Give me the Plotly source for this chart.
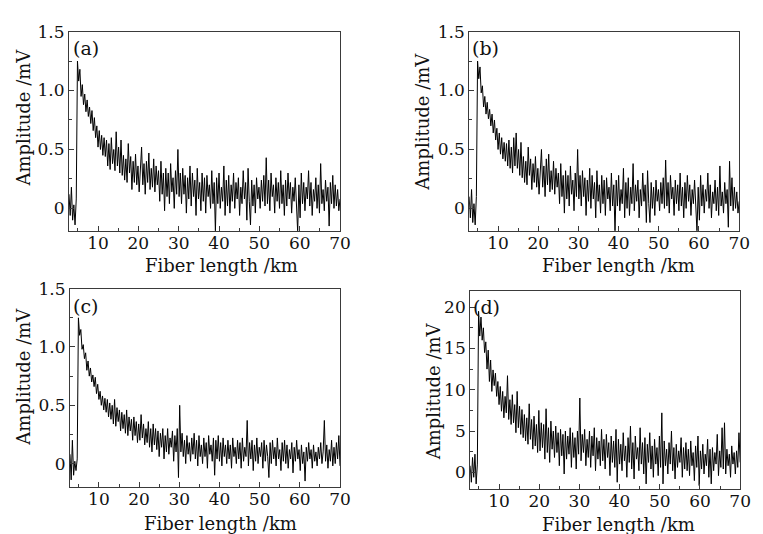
import plotly.graph_objects as go

# ---------------- data ----------------
fiber_km = [
    2.8, 3.1, 3.4, 3.7, 4.0, 4.3, 4.6, 4.9, 5.2, 5.5,
    5.8, 6.1, 6.4, 6.7, 7.0, 7.3, 7.6, 7.9, 8.2, 8.5,
    8.8, 9.1, 9.4, 9.7, 10.0, 10.3, 10.6, 10.9, 11.2, 11.5,
    11.8, 12.1, 12.4, 12.7, 13.0, 13.3, 13.6, 13.9, 14.2, 14.5,
    14.8, 15.1, 15.4, 15.7, 16.0, 16.3, 16.6, 16.9, 17.2, 17.5,
    17.8, 18.1, 18.4, 18.7, 19.0, 19.3, 19.6, 19.9, 20.2, 20.5,
    20.8, 21.1, 21.4, 21.7, 22.0, 22.3, 22.6, 22.9, 23.2, 23.5,
    23.8, 24.1, 24.4, 24.7, 25.0, 25.3, 25.6, 25.9, 26.2, 26.5,
    26.8, 27.1, 27.4, 27.7, 28.0, 28.3, 28.6, 28.9, 29.2, 29.5,
    29.8, 30.1, 30.4, 30.7, 31.0, 31.3, 31.6, 31.9, 32.2, 32.5,
    32.8, 33.1, 33.4, 33.7, 34.0, 34.3, 34.6, 34.9, 35.2, 35.5,
    35.8, 36.1, 36.4, 36.7, 37.0, 37.3, 37.6, 37.9, 38.2, 38.5,
    38.8, 39.1, 39.4, 39.7, 40.0, 40.3, 40.6, 40.9, 41.2, 41.5,
    41.8, 42.1, 42.4, 42.7, 43.0, 43.3, 43.6, 43.9, 44.2, 44.5,
    44.8, 45.1, 45.4, 45.7, 46.0, 46.3, 46.6, 46.9, 47.2, 47.5,
    47.8, 48.1, 48.4, 48.7, 49.0, 49.3, 49.6, 49.9, 50.2, 50.5,
    50.8, 51.1, 51.4, 51.7, 52.0, 52.3, 52.6, 52.9, 53.2, 53.5,
    53.8, 54.1, 54.4, 54.7, 55.0, 55.3, 55.6, 55.9, 56.2, 56.5,
    56.8, 57.1, 57.4, 57.7, 58.0, 58.3, 58.6, 58.9, 59.2, 59.5,
    59.8, 60.1, 60.4, 60.7, 61.0, 61.3, 61.6, 61.9, 62.2, 62.5,
    62.8, 63.1, 63.4, 63.7, 64.0, 64.3, 64.6, 64.9, 65.2, 65.5,
    65.8, 66.1, 66.4, 66.7, 67.0, 67.3, 67.6, 67.9, 68.2, 68.5,
    68.8, 69.1, 69.4, 69.7, 70.0,
]

amp_a_mV = [
    0.12, -0.06, 0.18, -0.10, 0.03, -0.14, 0.08, 1.25, 1.08, 1.18,
    0.95, 1.05, 0.88, 0.97, 0.82, 0.92, 0.78, 0.86, 0.72, 0.83,
    0.66, 0.77, 0.60, 0.70, 0.52, 0.66, 0.50, 0.62, 0.45, 0.60,
    0.44, 0.58, 0.36, 0.55, 0.33, 0.60, 0.38, 0.50, 0.32, 0.65,
    0.36, 0.52, 0.30, 0.58, 0.28, 0.45, 0.24, 0.42, 0.22, 0.55,
    0.30, 0.44, 0.16, 0.40, 0.22, 0.46, 0.20, 0.36, 0.14, 0.38,
    0.52, 0.20, 0.38, 0.12, 0.40, 0.22, 0.47, 0.16, 0.34, 0.18,
    0.42, 0.14, 0.36, 0.20, 0.32, 0.06, 0.40, 0.12, 0.30, -0.02,
    0.34, 0.10, 0.30, 0.04, 0.38, 0.14, 0.26, 0.00, 0.32, 0.12,
    0.50, 0.10, 0.30, 0.04, 0.34, 0.12, 0.28, -0.04, 0.26, 0.08,
    0.36, 0.02, 0.30, 0.10, 0.24, -0.06, 0.34, 0.08, 0.22, -0.02,
    0.30, 0.06, 0.26, -0.04, 0.28, 0.10, 0.20, 0.00, 0.32, 0.04,
    0.22, -0.20, 0.26, 0.04, 0.30, 0.00, 0.18, 0.06, 0.36, -0.06,
    0.24, 0.02, 0.28, -0.04, 0.20, 0.06, 0.30, 0.00, 0.22, 0.08,
    0.26, -0.06, 0.18, 0.04, 0.32, 0.08, 0.22, -0.10, 0.34, 0.06,
    -0.14, 0.24, 0.02, 0.20, -0.04, 0.26, 0.08, 0.18, 0.00, 0.24,
    0.06, 0.28, 0.02, 0.43, 0.04, 0.24, -0.02, 0.30, 0.10, 0.20,
    -0.04, 0.26, 0.06, 0.22, 0.00, 0.32, 0.04, 0.20, -0.06, 0.24,
    0.02, 0.30, 0.08, 0.22, -0.04, 0.18, 0.06, 0.26, 0.00, -0.20,
    0.20, -0.08, 0.30, 0.04, 0.22, -0.02, 0.18, 0.08, 0.32, 0.02,
    0.22, -0.06, 0.16, 0.06, 0.26, 0.00, 0.20, -0.04, 0.38, 0.04,
    0.16, -0.02, 0.24, 0.06, 0.18, -0.15, 0.22, 0.04, 0.28, 0.00,
    0.20, 0.02, 0.16, -0.02, 0.08,
]

amp_b_mV = [
    0.10, -0.08, 0.16, -0.12, 0.04, -0.14, 0.10, 1.25, 1.10, 1.20,
    0.98, 1.04, 0.86, 0.95, 0.80, 0.90, 0.76, 0.84, 0.70, 0.80,
    0.64, 0.75, 0.58, 0.68, 0.50, 0.64, 0.46, 0.60, 0.42, 0.56,
    0.40, 0.55, 0.36, 0.58, 0.34, 0.52, 0.30, 0.60, 0.36, 0.64,
    0.34, 0.50, 0.28, 0.56, 0.26, 0.44, 0.22, 0.40, 0.20, 0.52,
    0.28, 0.42, 0.16, 0.38, 0.22, 0.44, 0.18, 0.34, 0.12, 0.36,
    0.50, 0.18, 0.36, 0.10, 0.42, 0.20, 0.46, 0.14, 0.32, 0.16,
    0.40, 0.12, 0.34, 0.18, 0.30, 0.04, 0.38, 0.10, 0.28, -0.04,
    0.32, 0.08, 0.28, 0.02, 0.36, 0.12, 0.24, -0.02, 0.30, 0.10,
    0.50, 0.08, 0.28, 0.02, 0.32, 0.10, 0.26, -0.06, 0.24, 0.06,
    0.34, 0.00, 0.28, 0.08, 0.22, -0.08, 0.32, 0.06, 0.20, -0.04,
    0.28, 0.04, 0.24, -0.06, 0.26, 0.08, 0.18, -0.02, 0.30, 0.02,
    0.20, -0.22, 0.24, 0.02, 0.28, -0.02, 0.16, 0.04, 0.34, -0.08,
    0.22, 0.00, 0.26, -0.06, 0.18, 0.04, 0.38, -0.02, 0.20, 0.06,
    0.24, -0.08, 0.16, 0.02, 0.30, 0.06, 0.20, -0.12, 0.32, 0.04,
    -0.12, 0.22, 0.00, 0.18, -0.06, 0.24, 0.06, 0.16, -0.02, 0.22,
    0.04, 0.26, 0.00, 0.41, 0.02, 0.22, -0.04, 0.28, 0.08, 0.18,
    -0.06, 0.24, 0.04, 0.20, -0.02, 0.30, 0.02, 0.18, -0.08, 0.22,
    0.00, 0.28, 0.06, 0.20, -0.06, 0.16, 0.04, 0.24, -0.02, -0.20,
    0.18, -0.10, 0.28, 0.02, 0.20, -0.04, 0.16, 0.06, 0.30, 0.00,
    0.20, -0.08, 0.14, 0.04, 0.24, -0.02, 0.18, -0.06, 0.36, 0.02,
    0.14, -0.04, 0.22, 0.04, 0.16, -0.16, 0.40, 0.02, 0.26, -0.02,
    0.18, 0.00, 0.14, -0.04, 0.06,
]

amp_c_mV = [
    0.08, -0.14, 0.20, -0.10, 0.02, -0.06, 0.04, 1.25, 1.10, 1.15,
    0.98, 1.02, 0.90, 0.95, 0.80, 0.88, 0.75, 0.82, 0.70, 0.76,
    0.66, 0.74, 0.60, 0.68, 0.55, 0.62, 0.50, 0.58, 0.46, 0.56,
    0.44, 0.55, 0.40, 0.52, 0.38, 0.50, 0.34, 0.55, 0.32, 0.48,
    0.36, 0.46, 0.28, 0.44, 0.30, 0.42, 0.26, 0.46, 0.24, 0.40,
    0.28, 0.38, 0.20, 0.40, 0.24, 0.36, 0.18, 0.34, 0.20, 0.42,
    0.22, 0.34, 0.16, 0.30, 0.18, 0.36, 0.14, 0.30, 0.10, 0.34,
    0.16, 0.30, 0.12, 0.28, 0.06, 0.26, 0.14, 0.30, 0.04, 0.24,
    0.10, 0.30, 0.08, 0.22, 0.14, 0.28, 0.02, 0.24, 0.10, 0.30,
    -0.12, 0.50, 0.10, 0.26, 0.06, 0.20, 0.00, 0.24, 0.08, 0.18,
    0.02, 0.22, 0.08, 0.26, 0.04, 0.20, -0.02, 0.24, 0.06, 0.16,
    0.00, 0.22, 0.06, 0.18, -0.04, 0.24, 0.08, 0.16, 0.02, 0.22,
    -0.10, 0.20, 0.04, 0.24, 0.02, 0.18, -0.02, 0.22, 0.06, 0.16,
    0.00, 0.20, 0.04, 0.16, -0.04, 0.22, 0.06, 0.14, 0.00, 0.20,
    0.04, 0.18, -0.04, 0.22, 0.02, 0.14, 0.06, 0.37, -0.02, 0.18,
    0.04, 0.20, -0.06, 0.16, 0.02, 0.22, 0.00, 0.14, 0.06, 0.18,
    -0.04, 0.20, 0.02, 0.16, 0.06, -0.12, 0.18, 0.00, 0.20, 0.04,
    0.14, -0.02, 0.22, 0.04, 0.12, -0.06, 0.18, 0.02, 0.20, 0.00,
    0.16, -0.04, 0.12, 0.04, 0.18, -0.08, 0.14, 0.02, 0.20, 0.04,
    0.12, -0.06, 0.16, 0.00, 0.10, -0.15, 0.14, 0.02, 0.18, 0.04,
    0.12, -0.04, 0.16, 0.02, 0.10, -0.02, 0.14, 0.04, 0.18, 0.00,
    0.10, 0.37, 0.02, 0.16, -0.04, 0.12, 0.02, 0.20, -0.02, 0.14,
    0.00, 0.18, 0.04, 0.24, -0.02,
]

amp_d_mV = [
    0.8, -1.2, 1.8, -0.6, 2.2, -1.4, 1.0, 19.5, 16.5, 18.8,
    16.0, 17.5, 14.5, 15.8, 12.5, 14.8, 11.0, 13.6, 9.8, 12.4,
    10.5, 12.0, 9.2, 11.0, 8.2, 10.4, 7.4, 9.8, 6.6, 9.2,
    7.2, 11.7, 6.4, 8.8, 5.8, 9.4, 6.0, 8.2, 4.8, 9.8,
    5.4, 8.0, 4.6, 7.6, 4.2, 7.0, 3.8, 6.6, 3.4, 8.3,
    4.0, 6.4, 2.8, 6.8, 3.2, 5.8, 2.4, 7.5, 2.6, 6.0,
    3.0, 5.8, 1.6, 7.7, 2.4, 5.4, 1.2, 6.2, 2.8, 5.0,
    1.8, 5.6, 2.4, 4.8, 0.8, 5.2, 2.0, 4.6, -0.2, 5.0,
    1.6, 4.4, 2.2, 5.4, 0.6, 4.8, 1.8, 4.2, 0.4, 5.0,
    2.2, 9.0, 1.4, 4.6, 2.4, 5.2, 0.8, 4.0, 1.8, 5.0,
    0.6, 4.4, 2.0, 5.4, 0.2, 4.2, 1.6, 3.8, 0.8, 5.2,
    1.4, 4.0, 0.4, 4.6, 1.8, 3.6, -0.4, 4.4, 1.2, 3.8,
    0.6, 5.2, -1.2, 4.0, 1.0, 3.4, 0.2, 4.8, 1.4, 3.2,
    -0.6, 4.2, 1.2, 5.6, 0.4, 3.6, -0.8, 4.4, 1.6, 3.0,
    0.2, 5.4, 1.0, 3.6, -0.2, 4.2, -1.4, 3.4, 1.2, 4.8,
    0.4, 3.2, -0.6, 4.0, 1.0, 3.0, -0.4, 4.4, 0.6, 7.2,
    -1.4, 3.8, 0.8, 2.8, -0.2, 3.6, 1.0, 5.0, 0.2, 3.0,
    -0.8, 3.4, 0.6, 2.6, 1.2, 4.2, -0.6, 3.0, 0.4, 3.6,
    0.2, 2.8, -0.4, 3.8, 0.8, 2.4, -1.0, 3.2, 0.6, 4.4,
    -1.6, 2.6, 0.4, 3.4, -0.2, 2.2, 0.8, 4.0, -0.6, 2.8,
    -1.4, 3.0, 0.2, 2.4, 1.0, 4.6, -0.4, 2.6, 0.6, 5.4,
    0.4, 6.0, -0.2, 2.8, 0.8, 2.2, -0.6, 3.2, 1.0, 2.4,
    -0.2, 2.6, 0.6, 4.8, 1.2,
]

x_tick_vals = [10, 20, 30, 40, 50, 60, 70]
y_tick_vals_abc = [0, 0.5, 1.0, 1.5]
y_tick_text_abc = ["0", "0.5", "1.0", "1.5"]
y_tick_vals_d = [0, 5, 10, 15, 20]
y_tick_text_d = ["0", "5", "10", "15", "20"]
panel_labels = ["(a)", "(b)", "(c)", "(d)"]
x_title = "Fiber length /km"
y_title = "Amplitude /mV"

# ---------------- layout helpers ----------------
W, H = 763, 534
FONT = "DejaVu Serif"
INK = "#111111"
FRAME = "#3a3a3a"


def xdom(a, b):
    return [a / W, b / W]


def ydom(top, bottom):
    return [1 - bottom / H, 1 - top / H]


panels = [
    dict(series=amp_a_mV, xd=(70, 345), yd=(22, 225), yr=[-0.19, 1.5],
         tv=y_tick_vals_abc, tt=y_tick_text_abc, minor=0.25,
         lab=(87, 39), xt=(225, 260), yt=(24, 110)),
    dict(series=amp_b_mV, xd=(476, 750), yd=(22, 225), yr=[-0.19, 1.5],
         tv=y_tick_vals_abc, tt=y_tick_text_abc, minor=0.25,
         lab=(493, 39), xt=(628, 260), yt=(429, 114)),
    dict(series=amp_c_mV, xd=(71, 345), yd=(284, 486), yr=[-0.2, 1.5],
         tv=y_tick_vals_abc, tt=y_tick_text_abc, minor=0.25,
         lab=(87, 302), xt=(224, 523), yt=(24, 374)),
    dict(series=amp_d_mV, xd=(477, 751), yd=(286, 488), yr=[-2.0, 22.0],
         tv=y_tick_vals_d, tt=y_tick_text_d, minor=2.5,
         lab=(494, 303), xt=(628, 524), yt=(440, 389)),
]

fig = go.Figure()
annotations = []
layout_axes = {}

for i, p in enumerate(panels):
    k = "" if i == 0 else str(i + 1)
    n = min(len(fiber_km), len(p["series"]))
    fig.add_trace(go.Scatter(
        x=fiber_km[:n], y=p["series"][:n], mode="lines",
        line=dict(color="#000000", width=1),
        xaxis="x" + k, yaxis="y" + k, showlegend=False, hoverinfo="skip",
    ))
    layout_axes["xaxis" + k] = dict(
        domain=xdom(*p["xd"]), anchor="y" + k, range=[2.8, 70],
        tickmode="array", tickvals=x_tick_vals,
        ticks="inside", ticklen=5, tickwidth=1, tickcolor=FRAME,
        ticklabelstandoff=-3,
        minor=dict(ticks="inside", ticklen=3, tickwidth=1, tickcolor=FRAME,
                   tickmode="linear", tick0=5, dtick=10),
        showline=True, linecolor=FRAME, linewidth=1, mirror=True,
        showgrid=False, zeroline=False,
        tickfont=dict(family=FONT, size=17, color=INK),
        fixedrange=True,
    )
    layout_axes["yaxis" + k] = dict(
        domain=ydom(*p["yd"]), anchor="x" + k, range=p["yr"],
        tickmode="array", tickvals=p["tv"], ticktext=p["tt"],
        ticks="inside", ticklen=5, tickwidth=1, tickcolor=FRAME,
        minor=dict(ticks="inside", ticklen=3, tickwidth=1, tickcolor=FRAME,
                   tickmode="linear", tick0=p["minor"], dtick=2 * p["minor"]),
        showline=True, linecolor=FRAME, linewidth=1, mirror=True,
        showgrid=False, zeroline=False,
        tickfont=dict(family=FONT, size=17, color=INK),
        fixedrange=True,
    )
    annotations.append(dict(
        text=panel_labels[i], xref="paper", yref="paper",
        x=p["lab"][0] / W, y=1 - p["lab"][1] / H,
        xanchor="center", yanchor="middle", showarrow=False,
        font=dict(family=FONT, size=19, color=INK),
    ))
    annotations.append(dict(
        text=x_title, xref="paper", yref="paper",
        x=p["xt"][0] / W, y=1 - p["xt"][1] / H,
        xanchor="center", yanchor="middle", showarrow=False,
        font=dict(family=FONT, size=18, color=INK),
    ))
    annotations.append(dict(
        text=y_title, xref="paper", yref="paper",
        x=p["yt"][0] / W, y=1 - p["yt"][1] / H, textangle=-90,
        xanchor="center", yanchor="middle", showarrow=False,
        font=dict(family=FONT, size=18, color=INK),
    ))

fig.update_layout(
    width=W, height=H,
    margin=dict(l=0, r=0, t=0, b=0),
    paper_bgcolor="white", plot_bgcolor="white",
    annotations=annotations,
    **layout_axes,
)

fig.write_html(
    "out.html",
    config={"displayModeBar": False},
    post_script="document.body.style.margin='0';document.body.style.overflow='hidden';",
)
